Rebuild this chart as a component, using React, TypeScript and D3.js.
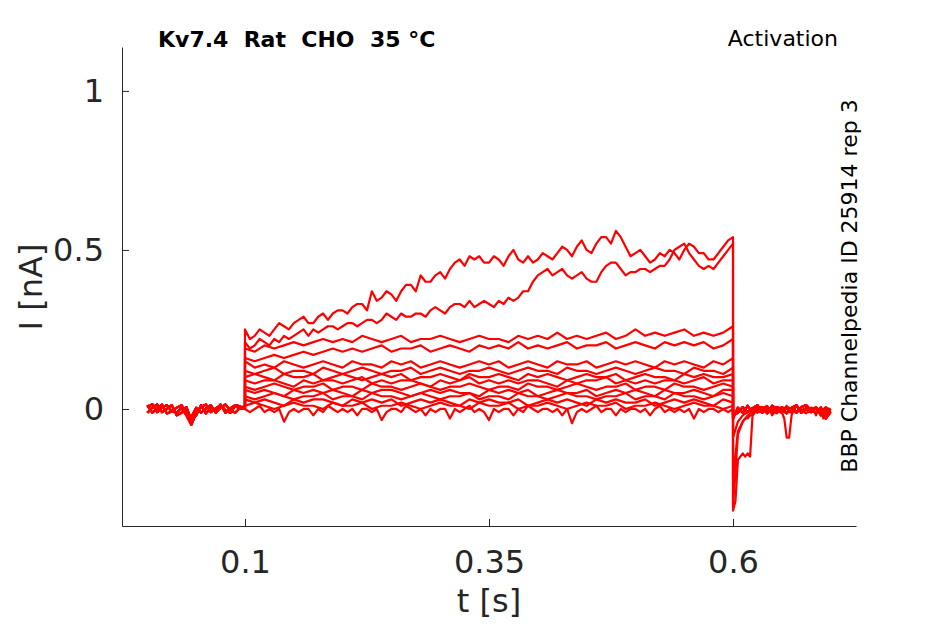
import React, { useEffect, useRef } from 'react';
import * as d3 from 'd3';

// current traces in nA
// baseline before the step, 0 - 0.1 s
const baseline1 = [0.005, 0.015, -0.01, 0.005, 0.012, -0.008, -0.012, 0.004, -0.02, -0.05, -0.012, 0.006, 0.014, -0.01, 0.002, 0.012, -0.004, -0.012, 0.01, 0.0, 0.004];
const baseline2 = [-0.012, 0.004, 0.014, -0.01, 0.0, 0.012, -0.02, -0.012, 0.006, -0.035, -0.02, 0.012, -0.014, 0.004, -0.004, 0.014, -0.012, 0.002, 0.012, 0.008, 0.0];
const baseline3 = [0.012, -0.012, 0.002, 0.014, -0.014, -0.008, 0.004, 0.012, -0.012, -0.025, 0.004, -0.012, 0.002, 0.012, -0.012, 0.004, 0.014, -0.004, -0.012, 0.004, 0.008];

// during the step, 0.1 - 0.6 s (two largest sweeps, every 5 ms)
const stepA = [
  0.25, 0.22, 0.23, 0.25, 0.24, 0.23, 0.25, 0.27, 0.26, 0.25, 0.27, 0.28, 0.29, 0.27, 0.27, 0.29, 0.3, 0.28, 0.3, 0.31,
  0.31, 0.3, 0.32, 0.33, 0.33, 0.31, 0.37, 0.34, 0.35, 0.37, 0.36, 0.34, 0.37, 0.39, 0.39, 0.37, 0.42, 0.4, 0.4, 0.42,
  0.43, 0.41, 0.44, 0.46, 0.47, 0.45, 0.48, 0.47, 0.48, 0.46, 0.46, 0.48, 0.47, 0.45, 0.48, 0.5, 0.47, 0.46, 0.48, 0.46,
  0.47, 0.49, 0.48, 0.47, 0.49, 0.51, 0.5, 0.48, 0.51, 0.53, 0.5, 0.49, 0.52, 0.54, 0.54, 0.52, 0.56, 0.54, 0.51, 0.48,
  0.49, 0.5, 0.48, 0.46, 0.47, 0.49, 0.48, 0.5, 0.49, 0.47, 0.5, 0.52, 0.51, 0.49, 0.49, 0.47, 0.47, 0.49, 0.51, 0.53,
  0.54,
];
const stepB = [
  0.21, 0.19, 0.2, 0.22, 0.21, 0.2, 0.22, 0.21, 0.23, 0.22, 0.23, 0.24, 0.25, 0.23, 0.25, 0.24, 0.25, 0.26, 0.26, 0.25,
  0.26, 0.27, 0.27, 0.26, 0.27, 0.28, 0.28, 0.27, 0.28, 0.3, 0.29, 0.28, 0.3, 0.29, 0.29, 0.3, 0.3, 0.29, 0.31, 0.32,
  0.31, 0.3, 0.32, 0.33, 0.33, 0.32, 0.34, 0.32, 0.33, 0.34, 0.33, 0.32, 0.34, 0.33, 0.35, 0.34, 0.35, 0.37, 0.37, 0.4,
  0.42, 0.43, 0.44, 0.42, 0.43, 0.44, 0.42, 0.41, 0.42, 0.43, 0.41, 0.4, 0.4, 0.43, 0.45, 0.46, 0.46, 0.44, 0.42, 0.43,
  0.43, 0.44, 0.44, 0.43, 0.44, 0.45, 0.45, 0.47, 0.5, 0.51, 0.52, 0.49, 0.47, 0.45, 0.44, 0.45, 0.44, 0.46, 0.48, 0.5,
  0.52,
];
// the smaller sweeps, every 10 ms
const stepSmall = [
  [0.19, 0.18, 0.2, 0.19, 0.2, 0.21, 0.2, 0.21, 0.22, 0.21, 0.22, 0.21, 0.23, 0.22, 0.21, 0.22, 0.23, 0.21, 0.22, 0.22, 0.23, 0.22, 0.21, 0.22, 0.23, 0.22, 0.22, 0.21, 0.23, 0.22, 0.23, 0.22, 0.24, 0.22, 0.23, 0.22, 0.23, 0.24, 0.22, 0.23, 0.25, 0.23, 0.24, 0.23, 0.24, 0.25, 0.23, 0.24, 0.23, 0.24, 0.26],
  [0.16, 0.15, 0.16, 0.17, 0.16, 0.17, 0.18, 0.17, 0.18, 0.19, 0.18, 0.19, 0.18, 0.19, 0.2, 0.18, 0.19, 0.19, 0.2, 0.18, 0.19, 0.2, 0.19, 0.18, 0.2, 0.19, 0.2, 0.19, 0.21, 0.19, 0.2, 0.19, 0.2, 0.21, 0.19, 0.2, 0.2, 0.21, 0.19, 0.2, 0.21, 0.2, 0.19, 0.21, 0.2, 0.21, 0.2, 0.21, 0.19, 0.2, 0.22],
  [0.15, 0.13, 0.14, 0.13, 0.15, 0.14, 0.13, 0.14, 0.15, 0.14, 0.13, 0.15, 0.14, 0.14, 0.13, 0.15, 0.14, 0.15, 0.13, 0.14, 0.15, 0.14, 0.13, 0.14, 0.15, 0.14, 0.15, 0.13, 0.14, 0.15, 0.14, 0.13, 0.15, 0.14, 0.14, 0.15, 0.13, 0.14, 0.15, 0.14, 0.15, 0.14, 0.13, 0.15, 0.14, 0.15, 0.14, 0.13, 0.15, 0.14, 0.16],
  [0.12, 0.11, 0.12, 0.13, 0.11, 0.12, 0.12, 0.11, 0.13, 0.12, 0.11, 0.12, 0.13, 0.12, 0.11, 0.12, 0.12, 0.13, 0.11, 0.12, 0.13, 0.12, 0.11, 0.12, 0.12, 0.13, 0.12, 0.11, 0.12, 0.13, 0.12, 0.12, 0.11, 0.13, 0.12, 0.12, 0.11, 0.12, 0.13, 0.12, 0.11, 0.12, 0.13, 0.12, 0.12, 0.11, 0.13, 0.12, 0.12, 0.11, 0.13],
  [0.1, 0.11, 0.1, 0.09, 0.11, 0.1, 0.1, 0.11, 0.09, 0.1, 0.11, 0.1, 0.09, 0.1, 0.11, 0.1, 0.11, 0.09, 0.1, 0.1, 0.11, 0.1, 0.09, 0.11, 0.1, 0.1, 0.11, 0.1, 0.09, 0.11, 0.1, 0.11, 0.1, 0.09, 0.1, 0.11, 0.1, 0.1, 0.11, 0.09, 0.1, 0.11, 0.1, 0.1, 0.09, 0.11, 0.1, 0.11, 0.1, 0.1, 0.11],
  [0.09, 0.08, 0.09, 0.09, 0.08, 0.07, 0.09, 0.08, 0.09, 0.09, 0.08, 0.09, 0.1, 0.08, 0.09, 0.08, 0.09, 0.09, 0.08, 0.07, 0.09, 0.08, 0.09, 0.1, 0.08, 0.09, 0.08, 0.09, 0.08, 0.09, 0.09, 0.08, 0.07, 0.09, 0.08, 0.09, 0.09, 0.1, 0.08, 0.09, 0.08, 0.09, 0.08, 0.09, 0.09, 0.08, 0.09, 0.1, 0.08, 0.09, 0.09],
  [0.07, 0.06, 0.07, 0.08, 0.07, 0.06, 0.07, 0.07, 0.08, 0.06, 0.07, 0.07, 0.06, 0.08, 0.07, 0.07, 0.06, 0.07, 0.08, 0.07, 0.06, 0.07, 0.07, 0.08, 0.07, 0.06, 0.07, 0.07, 0.06, 0.08, 0.07, 0.07, 0.06, 0.07, 0.08, 0.07, 0.06, 0.07, 0.07, 0.08, 0.06, 0.07, 0.07, 0.06, 0.08, 0.07, 0.07, 0.06, 0.07, 0.08, 0.07],
  [0.06, 0.05, 0.06, 0.05, 0.04, 0.06, 0.05, 0.06, 0.05, 0.06, 0.05, 0.04, 0.06, 0.05, 0.06, 0.06, 0.05, 0.04, 0.05, 0.06, 0.05, 0.06, 0.05, 0.05, 0.04, 0.06, 0.05, 0.06, 0.05, 0.06, 0.04, 0.05, 0.06, 0.05, 0.05, 0.06, 0.04, 0.05, 0.06, 0.05, 0.06, 0.05, 0.04, 0.06, 0.05, 0.05, 0.06, 0.05, 0.04, 0.06, 0.06],
  [0.04, 0.03, 0.04, 0.05, 0.04, 0.03, 0.04, 0.04, 0.05, 0.03, 0.04, 0.04, 0.03, 0.05, 0.04, 0.04, 0.03, 0.04, 0.05, 0.04, 0.03, 0.04, 0.04, 0.05, 0.03, 0.04, 0.04, 0.03, 0.05, 0.04, 0.04, 0.03, 0.04, 0.05, 0.04, 0.04, 0.03, 0.04, 0.04, 0.05, 0.03, 0.04, 0.04, 0.03, 0.05, 0.04, 0.04, 0.03, 0.04, 0.05, 0.04],
  [0.03, 0.02, 0.03, 0.02, 0.01, 0.03, 0.02, 0.03, 0.03, 0.02, 0.01, 0.03, 0.02, 0.03, 0.02, 0.03, 0.01, 0.02, 0.03, 0.02, 0.03, 0.02, 0.01, 0.03, 0.02, 0.03, 0.02, 0.02, 0.03, 0.01, 0.02, 0.03, 0.02, 0.03, 0.02, 0.01, 0.03, 0.02, 0.03, 0.02, 0.02, 0.03, 0.01, 0.02, 0.03, 0.02, 0.03, 0.02, 0.01, 0.03, 0.02],
  [0.01, 0.02, 0.01, 0.0, 0.01, 0.02, 0.01, 0.01, 0.0, 0.02, 0.01, 0.01, 0.02, 0.0, 0.01, 0.01, 0.02, 0.01, 0.0, 0.01, 0.02, 0.01, 0.01, 0.0, 0.02, 0.01, 0.01, 0.02, 0.0, 0.01, 0.01, 0.02, 0.01, 0.0, 0.01, 0.02, 0.01, 0.01, 0.02, 0.0, 0.01, 0.01, 0.02, 0.01, 0.0, 0.01, 0.02, 0.01, 0.01, 0.0, 0.01],
];
// smallest sweep, every 5 ms
const stepBottom = [
  0.0, -0.01, 0.0, 0.01, -0.01, 0.0, -0.01, 0.0, -0.04, -0.01,
  0.0, -0.01, 0.0, 0.0, -0.02, 0.0, -0.01, 0.01, 0.0, -0.01,
  0.0, -0.01, 0.0, -0.02, 0.0, 0.0, -0.01, 0.0, -0.035, -0.01,
  0.0, 0.0, -0.01, 0.01, 0.0, -0.01, 0.0, -0.02, 0.0, -0.01,
  0.0, 0.0, -0.03, 0.0, -0.01, 0.0, 0.01, -0.01, 0.0, -0.01,
  -0.035, 0.0, -0.01, 0.0, 0.0, -0.02, 0.0, -0.01, 0.01, 0.0,
  -0.01, 0.0, 0.0, -0.01, 0.0, -0.02, 0.0, -0.045, -0.01, 0.0,
  -0.01, 0.0, 0.01, -0.01, 0.0, 0.0, -0.02, 0.0, -0.01, 0.0,
  0.0, -0.01, 0.0, -0.02, 0.0, 0.01, -0.01, 0.0, -0.01, 0.0,
  -0.01, 0.0, -0.03, 0.0, -0.01, 0.0, 0.0, -0.01, 0.0, -0.01, 0.0,
];

// tail after the step, 0.6 - 0.7 s
const tailA = [
  -0.32, -0.29, -0.16, -0.15, -0.14, -0.15, -0.14, -0.15, -0.02, -0.01, 0.0, -0.01, 0.0, 0.0, -0.01, 0.0, -0.02, -0.01, 0.0, 0.0,
  -0.01, 0.0, 0.01, -0.01, 0.0, 0.0, -0.01, 0.0, -0.01, 0.0, 0.0, -0.01, 0.0, 0.0, -0.02, 0.0, -0.01, 0.0, 0.0, -0.01, 0.0,
];
const tailB = [
  -0.3, -0.2, -0.08, -0.06, -0.04, -0.03, -0.03, -0.02, -0.02, -0.01, -0.01, 0.0, -0.01, 0.0, 0.0, -0.01, 0.0, 0.0, -0.01, 0.0,
  -0.01, -0.03, -0.09, -0.09, -0.02, 0.0, -0.01, 0.0, 0.0, -0.01, 0.0, 0.0, -0.01, 0.0, 0.0, -0.01, 0.0, -0.03, -0.01, 0.0, 0.0,
];
const tailC = [-0.22, -0.07, -0.04, -0.02, -0.01, 0.005, -0.012, 0.004, -0.006, -0.014, 0.006, 0.0, -0.012, 0.008, -0.004, -0.014, 0.004, 0.0, -0.012, 0.006, -0.01];
const tailD = [-0.09, -0.04, -0.02, -0.01, 0.004, -0.012, 0.002, 0.01, -0.012, 0.0, 0.006, -0.012, 0.0, 0.01, -0.012, 0.004, -0.004, -0.012, 0.006, -0.02, 0.0];
const tailFlat1 = [-0.02, -0.012, 0.006, -0.01, 0.002, 0.012, -0.012, 0.004, -0.012, 0.006, -0.002, -0.014, 0.004, 0.012, -0.012, 0.002, -0.01, 0.006, -0.02, 0.004, -0.004];
const tailFlat2 = [-0.03, 0.004, -0.012, 0.01, -0.012, 0.002, 0.006, -0.014, 0.01, 0.0, -0.012, 0.004, 0.002, -0.012, 0.006, 0.012, -0.004, -0.012, 0.004, -0.03, -0.01];

const xTicks = [0.1, 0.35, 0.6];
const yTicks = [0, 0.5, 1];

const title = 'Kv7.4  Rat  CHO  35 °C';
const protocol = 'Activation';
const source = 'BBP Channelpedia ID 25914 rep 3';

const WIDTH = 945;
const HEIGHT = 624;
const AXIS_COLOR = '#262626';
const FONT = '"DejaVu Sans", sans-serif';

const App: React.FC = () => {
  const containerRef = useRef<HTMLDivElement>(null);

  useEffect(() => {
    if (containerRef.current) {
      drawChart(containerRef.current);
    }
  }, []);

  return <div ref={containerRef} style={{ position: 'absolute', left: 0, top: 0 }}></div>;
};

const segment = (values: number[], t0: number, t1: number) =>
  values.map((v, i) => [t0 + ((t1 - t0) * i) / (values.length - 1), v] as [number, number]);

const drawChart = (container: HTMLDivElement) => {
  d3.select(container).selectAll('*').remove();

  const svg = d3
    .select(container)
    .append('svg')
    .attr('width', WIDTH)
    .attr('height', HEIGHT)
    .style('display', 'block')
    .style('background', '#fff');

  const xScale = d3.scaleLinear().domain([-0.026, 0.726]).range([122, 856]);
  const yScale = d3.scaleLinear().domain([-0.368, 1.138]).range([526, 47]);

  const baselines = [baseline1, baseline2, baseline3];
  const steps = [stepA, stepB, ...stepSmall, stepBottom];
  const tails = [tailA, tailB, tailC, tailD];

  const traces = steps.map((step, i) => [
    ...segment(baselines[i % 3], 0, 0.1),
    ...segment(step, 0.1, 0.6),
    ...segment(tails[i] || (i % 2 ? tailFlat1 : tailFlat2), 0.6, 0.7),
  ]);

  const line = d3
    .line<[number, number]>()
    .x((d) => xScale(d[0]))
    .y((d) => yScale(d[1]));

  svg
    .append('g')
    .selectAll('path')
    .data(traces)
    .enter()
    .append('path')
    .attr('d', (d) => line(d) || '')
    .attr('fill', 'none')
    .attr('stroke', '#ff0000')
    .attr('stroke-width', 2.2)
    .attr('stroke-linejoin', 'round');

  const yAxisG = svg.append('g').attr('transform', 'translate(122,0)');
  yAxisG.call(
    d3
      .axisLeft(yScale)
      .tickValues(yTicks)
      .tickFormat(d3.format('~g'))
      .tickSizeInner(-7)
      .tickSizeOuter(0)
      .tickPadding(18),
  );

  const xAxisG = svg.append('g').attr('transform', 'translate(0,526)');
  xAxisG.call(
    d3
      .axisBottom(xScale)
      .tickValues(xTicks)
      .tickFormat(d3.format('~g'))
      .tickSizeInner(-7)
      .tickSizeOuter(0)
      .tickPadding(24),
  );

  svg.selectAll('.domain').attr('stroke', AXIS_COLOR);
  svg.selectAll('.tick line').attr('stroke', AXIS_COLOR);
  svg
    .selectAll('.tick text')
    .attr('fill', AXIS_COLOR)
    .style('font-family', FONT)
    .style('font-size', '32px');

  svg
    .append('text')
    .attr('x', 489)
    .attr('y', 612)
    .attr('text-anchor', 'middle')
    .attr('fill', AXIS_COLOR)
    .style('font-family', FONT)
    .style('font-size', '32px')
    .text('t [s]');

  svg
    .append('text')
    .attr('transform', 'translate(42,287) rotate(-90)')
    .attr('text-anchor', 'middle')
    .attr('fill', AXIS_COLOR)
    .style('font-family', FONT)
    .style('font-size', '32px')
    .text('I [nA]');

  svg
    .append('text')
    .attr('x', 158)
    .attr('y', 47)
    .attr('fill', '#000')
    .style('font-family', FONT)
    .style('font-weight', 'bold')
    .style('font-size', '22px')
    .style('white-space', 'pre')
    .text(title);

  svg
    .append('text')
    .attr('x', 838)
    .attr('y', 46)
    .attr('text-anchor', 'end')
    .attr('fill', '#000')
    .style('font-family', FONT)
    .style('font-size', '22px')
    .text(protocol);

  svg
    .append('text')
    .attr('transform', 'translate(857,286) rotate(-90)')
    .attr('text-anchor', 'middle')
    .attr('fill', '#000')
    .style('font-family', FONT)
    .style('font-size', '22px')
    .text(source);
};

export default App;
